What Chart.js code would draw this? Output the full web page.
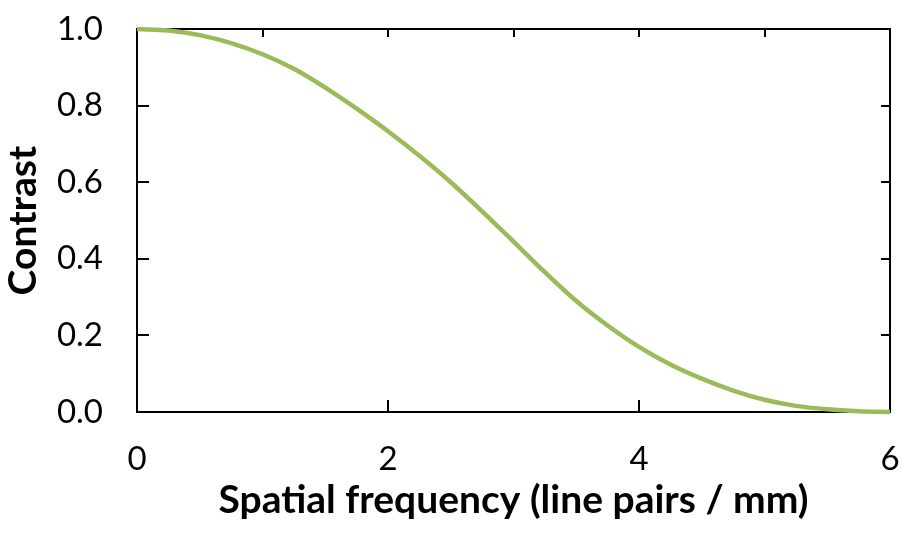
<!DOCTYPE html>
<html>
<head>
<meta charset="utf-8">
<script src="https://cdn.jsdelivr.net/npm/chart.js@4.4.1/dist/chart.umd.min.js"></script>
<style>
  html, body { margin: 0; padding: 0; background: #fff; }
  #wrap { width: 905px; height: 535px; }
</style>
</head>
<body>
<div id="wrap"><canvas id="mtfChart" width="905" height="535"></canvas></div>
<script>
// Spatial frequency (lp/mm) and contrast
const freq = [0, 0.25, 0.5, 0.75, 1, 1.25, 1.5, 1.75, 2, 2.25, 2.5, 2.75, 3,
  3.25, 3.5, 3.75, 4, 4.25, 4.5, 4.75, 5, 5.25, 5.5, 5.75, 6];
const contrast = [1.0, 0.996, 0.984, 0.963, 0.934, 0.896, 0.847, 0.792, 0.733, 0.669,
  0.6, 0.524, 0.445, 0.365, 0.29, 0.226, 0.17, 0.124, 0.087, 0.056,
  0.032, 0.016, 0.007, 0.002, 0.0];

// tick marks drawn inside the frame
const bottomTicks = [2, 4];
const topTicks = [1, 2, 3, 4, 5];
const sideTicks = [0.2, 0.4, 0.6, 0.8];

const frameTicks = {
  id: 'frameTicks',
  beforeDatasetsDraw(chart) {
    const { ctx, chartArea: a, scales: { x, y } } = chart;
    ctx.save();
    ctx.strokeStyle = '#000';
    ctx.lineWidth = 2;
    ctx.strokeRect(a.left, a.top, a.right - a.left, a.bottom - a.top);
    ctx.beginPath();
    bottomTicks.forEach(v => {
      const px = Math.round(x.getPixelForValue(v));
      ctx.moveTo(px, a.bottom);
      ctx.lineTo(px, a.bottom - 12);
    });
    topTicks.forEach(v => {
      const px = Math.round(x.getPixelForValue(v));
      ctx.moveTo(px, a.top);
      ctx.lineTo(px, a.top + 8);
    });
    sideTicks.forEach(v => {
      const py = Math.round(y.getPixelForValue(v));
      ctx.moveTo(a.left, py);
      ctx.lineTo(a.left + 12, py);
      ctx.moveTo(a.right, py);
      ctx.lineTo(a.right - 9, py);
    });
    ctx.stroke();
    ctx.restore();
  }
};

// no extra room for overhanging end labels: the frame is placed by the layout padding
function noOverhang(scale) {
  scale.paddingLeft = 0;
  scale.paddingRight = 0;
  scale.paddingTop = 0;
  scale.paddingBottom = 0;
}

const tickFont = { family: 'Lato', size: 33 };
const titleFont = { family: 'Lato', size: 39, weight: 'bold' };

new Chart(document.getElementById('mtfChart'), {
  type: 'line',
  data: {
    datasets: [{
      data: freq.map((f, i) => ({ x: f, y: contrast[i] })),
      borderColor: '#9bbb59',
      borderWidth: 4.5,
      pointRadius: 0,
      cubicInterpolationMode: 'monotone',
      clip: false
    }]
  },
  options: {
    responsive: false,
    animation: false,
    layout: { padding: { top: 29, right: 15, left: 0, bottom: 0 } },
    plugins: { legend: { display: false }, tooltip: { enabled: false } },
    scales: {
      x: {
        type: 'linear',
        min: 0, max: 6,
        afterFit(scale) { noOverhang(scale); scale.height = 123; },
        grid: { display: false, drawTicks: false },
        border: { display: false },
        ticks: { stepSize: 2, color: '#000', font: tickFont, padding: 28, maxRotation: 0 },
        title: { display: true, text: 'Spatial frequency (line pairs / mm)', color: '#000',
          font: titleFont, padding: { top: 0, bottom: 11 } }
      },
      y: {
        min: 0, max: 1,
        afterFit(scale) { noOverhang(scale); scale.width = 137; },
        grid: { display: false, drawTicks: false },
        border: { display: false },
        ticks: { stepSize: 0.2, color: '#000', font: tickFont, padding: 34,
          callback: v => Number(v).toFixed(1) },
        title: { display: true, text: 'Contrast', color: '#000',
          font: titleFont, padding: { top: 0, bottom: 0 } }
      }
    }
  },
  plugins: [frameTicks]
});
</script>
</body>
</html>
